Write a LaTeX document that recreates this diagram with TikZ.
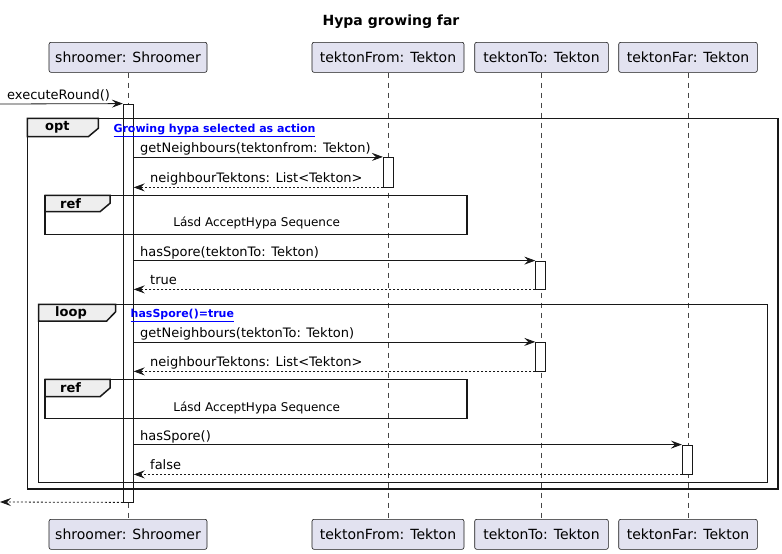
\documentclass[tikz,border=0pt]{standalone}
\usepackage{fontspec}
\setmainfont{DejaVu Sans}
\usetikzlibrary{arrows.meta}
\definecolor{lineC}{HTML}{181818}
\definecolor{partFill}{HTML}{E2E2F0}
\definecolor{tabFill}{HTML}{EEEEEE}
\definecolor{guardC}{HTML}{0000FF}
\tikzset{
  part/.style={draw=lineC, fill=partFill, rounded corners=2pt, minimum height=30pt, inner sep=0pt, font=\fontsize{14}{16}\selectfont, line width=0.6pt},
  lifeline/.style={draw=lineC!80, line width=0.5pt, dash pattern=on 5pt off 5pt},
  actbox/.style={draw=lineC, fill=white, minimum width=10pt, inner sep=0pt, line width=0.8pt},
  msg/.style={draw=lineC, line width=0.8pt, -{Stealth[length=11pt,width=8pt,inset=4pt]}},
  retmsg/.style={msg, dash pattern=on 2pt off 2pt},
  msglabel/.style={anchor=base west, inner sep=0pt, font=\fontsize{13}{15}\selectfont},
  framebox/.style={draw=lineC, line width=1.5pt},
  tabbox/.style={draw=lineC, fill=tabFill, line width=1.5pt},
  tablabel/.style={anchor=west, inner sep=0pt, font=\bfseries\fontsize{13}{15}\selectfont},
  guard/.style={anchor=base west, inner sep=0pt, text=guardC, font=\bfseries\fontsize{11}{13}\selectfont},
  reftext/.style={inner sep=0pt, font=\fontsize{12}{14}\selectfont}
}
\begin{document}
\begin{tikzpicture}[x=1pt,y=-1pt]
\useasboundingbox (0,0) rectangle (782,554);
% title
\node[font=\bfseries\fontsize{14}{16}\selectfont] (title) at (391,22) {Hypa growing far};
% participants
\node[part, minimum width=158pt] (pS) at (128,57.3) {shroomer: Shroomer};
\node[part, minimum width=152pt] (pF) at (388,57.3) {tektonFrom: Tekton};
\node[part, minimum width=133.6pt] (pT) at (541.5,57.3) {tektonTo: Tekton};
\node[part, minimum width=138.6pt] (pR) at (688,57.3) {tektonFar: Tekton};
\node[part, minimum width=158pt] (pSb) at (128,534.3) {shroomer: Shroomer};
\node[part, minimum width=152pt] (pFb) at (388,534.3) {tektonFrom: Tekton};
\node[part, minimum width=133.6pt] (pTb) at (541.5,534.3) {tektonTo: Tekton};
\node[part, minimum width=138.6pt] (pRb) at (688,534.3) {tektonFar: Tekton};
% lifelines
\draw[lifeline] (pS.south) -- (pSb.north);
\draw[lifeline] (pF.south) -- (pFb.north);
\draw[lifeline] (pT.south) -- (pTb.north);
\draw[lifeline] (pR.south) -- (pRb.north);
% activations
\node[actbox, minimum height=398pt] (aS) at (128.3,303) {};
\node[actbox, minimum height=29.7pt] (aF1) at (388.3,172.15) {};
\node[actbox, minimum height=28pt] (aT1) at (540.7,275) {};
\node[actbox, minimum height=28.7pt] (aT2) at (540.7,356.65) {};
\node[actbox, minimum height=29pt] (aR1) at (687.3,459.5) {};
% frames
\draw[framebox] (27.3,118.3) rectangle (778,489);
\draw[framebox] (38.7,304.3) rectangle (767.5,482.7);
\draw[framebox] (45,195.3) rectangle (467,234.3);
\draw[framebox] (45,379.3) rectangle (467,418.3);
% tabs
\draw[tabbox] (27.3,118.3) -- (98.3,118.3) -- (98.3,128.3) -- (88.3,136.7) -- (27.3,136.7) -- cycle;
\node[tablabel] (optL) at (45,127.5) {opt};
\node[guard] (optG) at (113.3,132) {\underline{Growing hypa selected as action}};
\draw[tabbox] (45,195.3) -- (110,195.3) -- (110,203.3) -- (100,211.7) -- (45,211.7) -- cycle;
\node[tablabel] (ref1L) at (60,203.5) {ref};
\node[reftext] (ref1T) at (256.7,222.7) {Lásd AcceptHypa Sequence};
\draw[tabbox] (38.7,304.3) -- (115.7,304.3) -- (115.7,311.7) -- (106.7,321) -- (38.7,321) -- cycle;
\node[tablabel] (loopL) at (55,312.7) {loop};
\node[guard] (loopG) at (130.5,317.5) {\underline{hasSpore()=true}};
\draw[tabbox] (45,379.3) -- (110,379.3) -- (110,388) -- (100,396.7) -- (45,396.7) -- cycle;
\node[tablabel] (ref2L) at (60,388) {ref};
\node[reftext] (ref2T) at (256.7,407.7) {Lásd AcceptHypa Sequence};
% external endpoints
\coordinate (extIn) at (0,104);
\coordinate (extOut) at (0,502);
% messages
\draw[msg] (extIn) -- (aS.north west);
\node[msglabel] (l0) at (7,99) {executeRound()};
\draw[msg] (aS.east |- aF1.north west) -- (aF1.north west);
\node[msglabel] (l1) at (140,152.3) {getNeighbours(tektonfrom: Tekton)};
\draw[retmsg] (aF1.south west) -- (aS.east |- aF1.south west);
\node[msglabel] (l2) at (150,182) {neighbourTektons: List<Tekton>};
\draw[msg] (aS.east |- aT1.north west) -- (aT1.north west);
\node[msglabel] (l3) at (140,256) {hasSpore(tektonTo: Tekton)};
\draw[retmsg] (aT1.south west) -- (aS.east |- aT1.south west);
\node[msglabel] (l4) at (150,284) {true};
\draw[msg] (aS.east |- aT2.north west) -- (aT2.north west);
\node[msglabel] (l5) at (140,337.3) {getNeighbours(tektonTo: Tekton)};
\draw[retmsg] (aT2.south west) -- (aS.east |- aT2.south west);
\node[msglabel] (l6) at (150,366) {neighbourTektons: List<Tekton>};
\draw[msg] (aS.east |- aR1.north west) -- (aR1.north west);
\node[msglabel] (l7) at (140,440) {hasSpore()};
\draw[retmsg] (aR1.south west) -- (aS.east |- aR1.south west);
\node[msglabel] (l8) at (150,469) {false};
\draw[retmsg] (aS.south west) -- (extOut);
\end{tikzpicture}
\end{document}
